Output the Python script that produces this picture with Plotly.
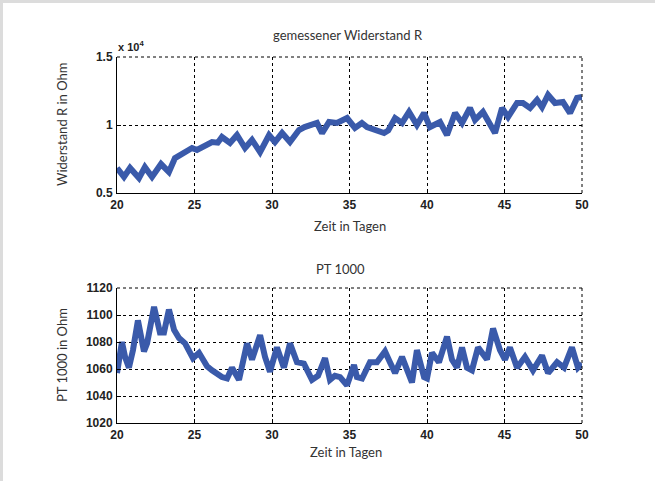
import plotly.graph_objects as go

# ---- data ----
t_R = [20.0, 20.45, 20.84, 21.42, 21.8, 22.26, 22.84, 23.35, 23.74, 24.32, 24.84, 25.16, 25.68, 26.13, 26.5,
       26.77, 27.29, 27.74, 28.26, 28.71, 29.23, 29.81, 30.19, 30.65, 31.16, 31.74, 32.1, 32.45, 32.9, 33.23,
       33.68, 34.19, 34.84, 35.35, 35.8, 36.13, 36.65, 37.23, 37.5, 37.94, 38.39, 38.84, 39.35, 39.81, 40.19,
       40.84, 41.29, 41.81, 42.26, 42.77, 43.1, 43.61, 44.39, 44.84, 45.23, 45.81, 46.19, 46.65, 47.1, 47.42,
       47.81, 48.26, 48.77, 49.23, 49.68, 50.0]
R_ohm = [6840, 6180, 6840, 6100, 6900, 6180, 7130, 6540, 7570, 7940, 8310, 8160, 8530, 8750, 8700,
         9120, 8680, 9270, 8310, 8900, 8010, 9260, 8750, 9410, 8750, 9630, 9850, 10000, 10150, 9410,
         10220, 10150, 10510, 9780, 10150, 9850, 9630, 9410, 9600, 10510, 10150, 10960, 10000, 10880, 9850,
         10220, 9260, 10880, 10150, 11250, 10370, 10960, 9410, 11250, 10590, 11620, 11620, 11250, 11840, 11320,
         12210, 11620, 11690, 10880, 11990, 12060]

t_P = [20.0, 20.32, 20.52, 20.77, 21.03, 21.35, 21.74, 21.94, 22.39, 22.77, 23.03, 23.35, 23.68, 24.0, 24.39,
       24.9, 25.29, 25.81, 26.13, 26.77, 27.1, 27.42, 27.87, 28.39, 28.71, 29.23, 29.55, 29.87, 30.32, 30.77,
       31.16, 31.61, 32.06, 32.58, 32.97, 33.42, 33.74, 34.06, 34.39, 34.84, 35.29, 35.48, 35.81, 36.32, 36.77,
       37.29, 37.61, 37.94, 38.39, 38.71, 39.03, 39.35, 39.81, 40.0, 40.32, 40.77, 41.29, 41.61, 41.94, 42.26,
       42.58, 42.9, 43.29, 43.87, 44.26, 44.71, 45.03, 45.35, 45.81, 46.32, 46.84, 47.42, 47.81, 48.39, 48.84,
       49.35, 49.74, 50.0]
PT_ohm = [1057, 1080, 1069, 1061, 1074, 1096, 1073, 1079, 1106, 1087, 1087, 1104, 1089, 1083, 1079,
          1068, 1072, 1062, 1059, 1054, 1053, 1061, 1052, 1079, 1067, 1085, 1069, 1058, 1076, 1061,
          1079, 1065, 1064, 1052, 1055, 1068, 1052, 1055, 1054, 1048, 1063, 1054, 1053, 1065, 1065,
          1073, 1065, 1057, 1069, 1058, 1050, 1074, 1054, 1053, 1072, 1065, 1084, 1067, 1061, 1076,
          1061, 1059, 1076, 1067, 1090, 1074, 1067, 1076, 1061, 1069, 1059, 1070, 1057, 1065, 1061,
          1076, 1061, 1064]

x_ticks = [20, 25, 30, 35, 40, 45, 50]
R_tickvals = [5000, 10000, 15000]
R_ticktext = ["0.5", "1", "1.5"]
PT_ticks = [1020, 1040, 1060, 1080, 1100, 1120]

title_top = "gemessener Widerstand R"
title_bottom = "PT 1000"
xlabel = "Zeit in Tagen"
ylabel_top = "Widerstand R in Ohm"
ylabel_bottom = "PT 1000 in Ohm"

# ---- figure ----
W, H = 655, 481
LINE = "rgb(58,90,170)"
TXT_FONT = dict(family="Lato, Open Sans, sans-serif", size=13, color="#333")
TICK_FONT = dict(family="Liberation Sans, Arial, sans-serif", size=12, color="#222", weight="bold")


def px_x(p):
    return p / W


def px_y(p):
    return 1 - p / H


fig = go.Figure()
fig.add_trace(go.Scatter(x=t_R, y=R_ohm, mode="lines", line=dict(color=LINE, width=6),
                         xaxis="x", yaxis="y", showlegend=False))
fig.add_trace(go.Scatter(x=t_P, y=PT_ohm, mode="lines", line=dict(color=LINE, width=6),
                         xaxis="x2", yaxis="y2", showlegend=False))

xdom = [px_x(117), px_x(582)]
axis_common = dict(showline=True, linecolor="black", linewidth=1, ticks="inside", ticklen=4,
                   tickcolor="black", showgrid=True, gridcolor="black", griddash="dot", gridwidth=1,
                   zeroline=False, tickfont=TICK_FONT, automargin=False)

fig.update_layout(
    template="none",
    width=W, height=H, autosize=False,
    margin=dict(l=0, r=0, t=0, b=0, pad=0, autoexpand=False),
    paper_bgcolor="white", plot_bgcolor="white",
    xaxis=dict(domain=xdom, range=[20, 50], tickvals=x_ticks, anchor="y", ticklabelstandoff=1, **axis_common),
    yaxis=dict(domain=[px_y(193), px_y(57)], range=[5000, 15000], tickvals=R_tickvals, ticktext=R_ticktext,
               anchor="x", ticklabelstandoff=1, **axis_common),
    xaxis2=dict(domain=xdom, range=[20, 50], tickvals=x_ticks, anchor="y2", ticklabelstandoff=1, **axis_common),
    yaxis2=dict(domain=[px_y(423), px_y(288)], range=[1020, 1120], tickvals=PT_ticks,
                anchor="x2", ticklabelstandoff=1, **axis_common),
)

# dotted top and right box edges
for xr, yr in (("x domain", "y domain"), ("x2 domain", "y2 domain")):
    fig.add_shape(type="line", xref=xr, yref=yr, x0=0, x1=1, y0=1, y1=1,
                  line=dict(color="black", width=1, dash="dot"))
    fig.add_shape(type="line", xref=xr, yref=yr, x0=1, x1=1, y0=0, y1=1,
                  line=dict(color="black", width=1, dash="dot"))

# light grey frame strips (left and top)
fig.add_shape(type="rect", xref="paper", yref="paper", x0=0, x1=px_x(3), y0=0, y1=1,
              fillcolor="#dcdcdc", line=dict(width=0), layer="below")
fig.add_shape(type="rect", xref="paper", yref="paper", x0=0, x1=1, y0=px_y(3), y1=1,
              fillcolor="#dcdcdc", line=dict(width=0), layer="below")

ann = []
ann.append(dict(text=title_top, x=px_x(348), y=px_y(35)))
ann.append(dict(text=xlabel, x=px_x(350), y=px_y(226)))
ann.append(dict(text=ylabel_top, x=px_x(62), y=px_y(125), textangle=-90))
ann.append(dict(text=title_bottom, x=px_x(340), y=px_y(269)))
ann.append(dict(text=xlabel, x=px_x(346), y=px_y(452)))
ann.append(dict(text=ylabel_bottom, x=px_x(62), y=px_y(355), textangle=-90))
for a in ann:
    a.update(xref="paper", yref="paper", xanchor="center", yanchor="middle", showarrow=False, font=TXT_FONT)
ann.append(dict(text="x 10<sup>4</sup>", x=px_x(116), y=px_y(46), xref="paper", yref="paper",
                xanchor="left", yanchor="middle", showarrow=False,
                font=dict(family="Liberation Sans, Arial, sans-serif", size=11, color="#222", weight="bold")))
fig.update_layout(annotations=ann)

fig.write_html("out.html")
